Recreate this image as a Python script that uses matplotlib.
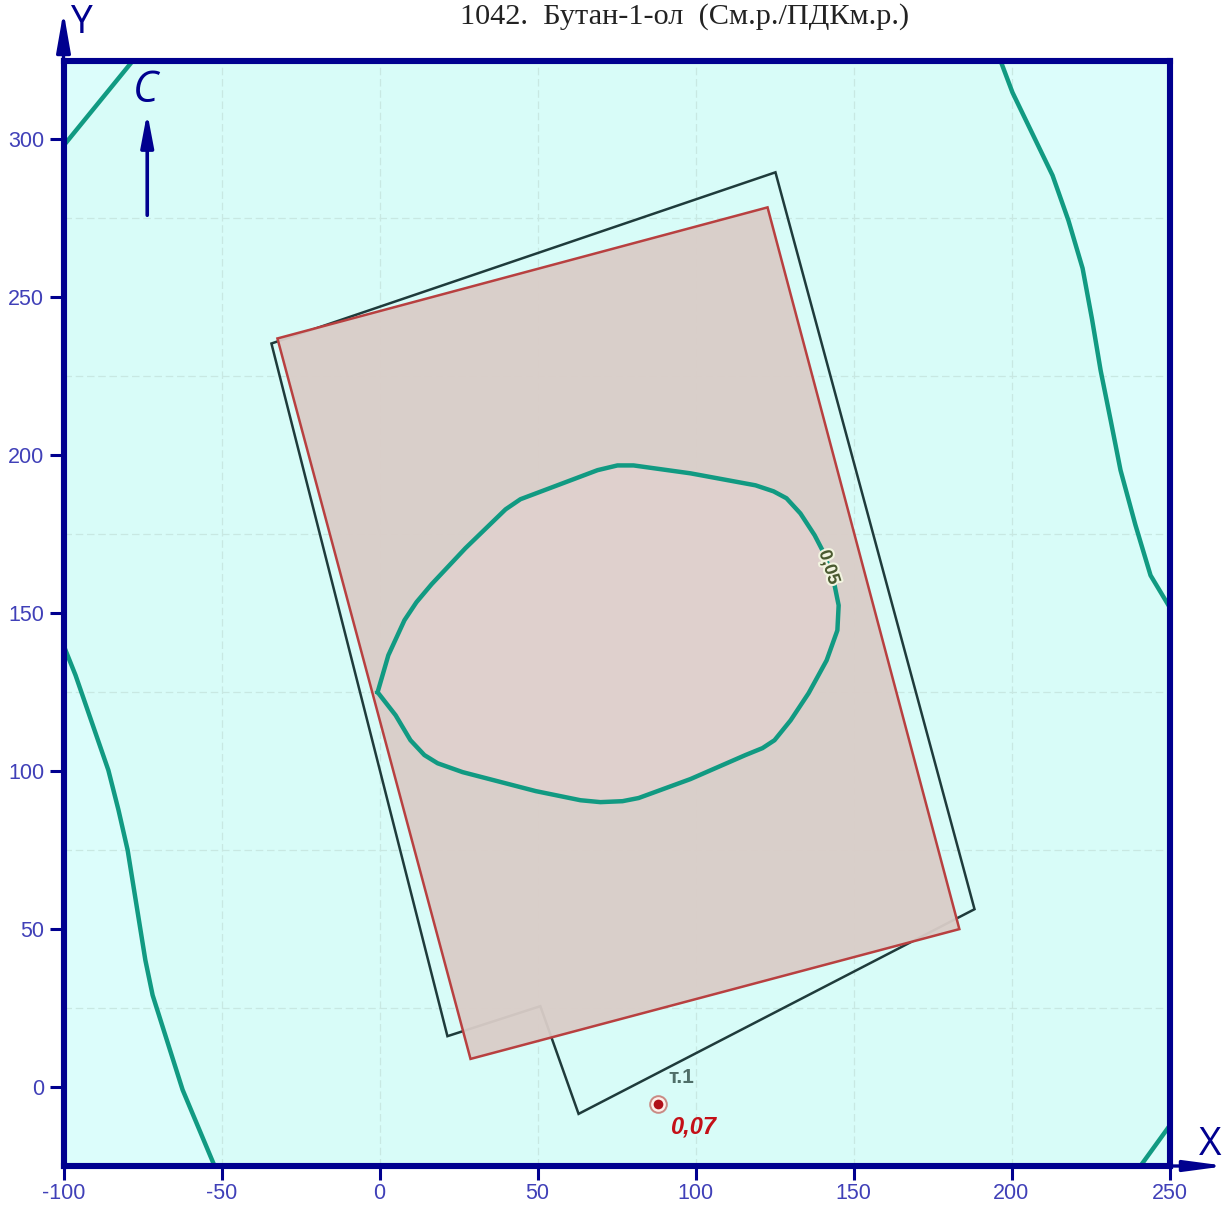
import matplotlib
matplotlib.use("Agg")
import matplotlib.pyplot as plt
import matplotlib.patheffects as pe
from matplotlib.patches import Polygon

title = "1042.  Бутан-1-ол  (См.р./ПДКм.р.)"
x_ticks = [-100, -50, 0, 50, 100, 150, 200, 250]
y_ticks = [0, 50, 100, 150, 200, 250, 300]
grid_x = [-50, 0, 50, 100, 150, 200]
grid_y = [25, 75, 125, 175, 225, 275]

outer_x = [-34.2, 125.3, 188.3, 63.0, 50.9, 21.5]
outer_y = [235.4, 289.6, 56.3, -8.5, 25.6, 16.1]
zone_x = [-32.3, 122.8, 183.5, 28.8]
zone_y = [237.0, 278.5, 50.0, 8.9]

inner_x = [-0.6, 2.8, 7.9, 11.7, 16.5, 27.2, 39.9, 44.6, 69.0, 75.3, 80.4, 98.4, 119.0, 124.7, 128.8,
           133.2, 137.7, 140.5, 143.7, 145.3, 144.9, 141.5, 135.8, 130.1, 125.0, 121.2, 115.8, 98.4,
           82.0, 76.9, 69.9, 63.6, 49.4, 26.3, 18.4, 14.2, 9.8, 5.1, -0.6]
inner_y = [125.0, 136.7, 147.8, 153.5, 159.2, 170.6, 182.9, 186.1, 195.3, 196.8, 196.8, 194.3, 190.5,
           188.6, 186.4, 181.6, 174.7, 169.3, 160.4, 152.5, 144.6, 135.1, 124.7, 116.1, 109.8, 107.3,
           105.1, 97.5, 91.5, 90.5, 90.2, 90.8, 93.7, 99.7, 102.5, 105.1, 109.8, 117.7, 125.0]
left_x = [-100.0, -96.2, -91.5, -85.8, -82.6, -79.7, -76.9, -74.1, -71.8, -69.3, -62.3, -52.2]
left_y = [139.9, 130.4, 116.8, 100.3, 87.7, 75.0, 57.6, 40.2, 29.1, 21.2, -0.9, -25.0]
right_x = [196.5, 200.3, 213.0, 218.0, 222.5, 225.5, 228.2, 231.4, 234.5, 239.2, 244.0, 250.0]
right_y = [325.0, 314.9, 288.6, 274.4, 259.2, 243.0, 226.9, 211.0, 195.3, 178.0, 162.0, 152.0]
tl_x = [-100.0, -78.0]
tl_y = [298.0, 325.0]
br_x = [240.8, 250.0]
br_y = [-25.0, -12.3]
point_x, point_y = 88.0, -5.4
point_value = "0,07"
point_name = "т.1"
contour_label = "0,05"

W, H = 1227, 1207
BLUE = "#00008f"
TEAL = "#119a82"
plt.rcParams["axes.unicode_minus"] = False
fig = plt.figure(figsize=(W / 100, H / 100), dpi=100)
ax = fig.add_axes([63.5 / W, 1 - 1166 / H, 1106 / W, 1105.5 / H])
ax.set_xlim(-100, 250)
ax.set_ylim(-25, 325)
ax.set_facecolor("#d8fcf8")

# slightly lighter regions beyond the outer isolines
light = "#dcfdfb"
ax.fill(left_x + [-100], left_y + [-25], color=light, lw=0, zorder=1)
ax.fill(right_x + [250], right_y + [325], color=light, lw=0, zorder=1)
ax.fill(tl_x + [-100], tl_y + [325], color=light, lw=0, zorder=1)
ax.fill(br_x + [250], br_y + [-25], color=light, lw=0, zorder=1)

for g in grid_x:
    ax.axvline(g, color="#c8e8e2", lw=0.9, ls=(0, (6, 3)), zorder=1.5)
for g in grid_y:
    ax.axhline(g, color="#c8e8e2", lw=0.9, ls=(0, (6, 3)), zorder=1.5)

ax.add_patch(Polygon(list(zip(outer_x, outer_y)), closed=True, fill=False, ec="#1f3b3b", lw=1.8, zorder=2))
zone = Polygon(list(zip(zone_x, zone_y)), closed=True, fc="#dacdc8", ec="none", alpha=0.95, zorder=3)
ax.add_patch(zone)
inner_fill = ax.fill(inner_x, inner_y, color="#dfd0cd", lw=0, zorder=3.2)[0]
inner_fill.set_clip_path(Polygon(list(zip(zone_x, zone_y)), closed=True, transform=ax.transData))
ax.add_patch(Polygon(list(zip(zone_x, zone_y)), closed=True, fill=False, ec="#b84040", lw=1.8, zorder=3.5))

for xs, ys in [(inner_x, inner_y), (left_x, left_y), (right_x, right_y), (tl_x, tl_y), (br_x, br_y)]:
    ax.plot(xs, ys, color=TEAL, lw=3.2, zorder=4, solid_joinstyle="round")

ax.text(142.2, 164.5, contour_label, rotation=-72, rotation_mode="anchor", ha="center", va="center",
        fontsize=13, color="#4a5a30", zorder=5, family="Liberation Sans", fontweight="bold",
        path_effects=[pe.withStroke(linewidth=3, foreground="#f2f4e0")])

ax.plot([point_x], [point_y], "o", ms=12, mfc="#fdf0ea", mec="#c98a84", mew=1.4, zorder=5)
ax.plot([point_x], [point_y], "o", ms=7, mfc="#b01018", mec="none", zorder=6)
ax.text(95.5, 2.9, point_name, ha="center", va="center", fontsize=15, color="#4f6e68",
        family="Liberation Sans", fontweight="bold", zorder=5)
ax.text(99.2, -12.7, point_value, ha="center", va="center", fontsize=17, color="#c41018",
        family="Liberation Sans", fontweight="bold", style="italic", zorder=5)

# wind direction arrow
ax.annotate("", xy=(-73.5, 308.5), xytext=(-73.5, 276), zorder=6,
            arrowprops=dict(arrowstyle="-|>,head_width=0.38,head_length=2.0", color=BLUE, lw=2.6,
                            shrinkA=0, shrinkB=0))
ax.text(-74, 315.5, "C", ha="center", va="center", fontsize=31, color=BLUE, family="Open Sans",
        style="italic", zorder=6)

for s in ax.spines.values():
    s.set_color(BLUE)
    s.set_linewidth(4.4)
    s.set_zorder(8)

ax.set_xticks(x_ticks)
ax.set_yticks(y_ticks)
ax.tick_params(axis="both", length=10, width=2.2, color=BLUE, labelcolor="#4040b8", labelsize=15.5)
ax.tick_params(axis="x", pad=2)
ax.tick_params(axis="y", pad=4)
for lab in ax.get_xticklabels() + ax.get_yticklabels():
    lab.set_family("Liberation Sans")

# axis arrows
ax.annotate("", xy=(-100, 340.5), xytext=(-100, 325), annotation_clip=False,
            arrowprops=dict(arrowstyle="-|>,head_width=0.42,head_length=2.4", color=BLUE, lw=2.4, shrinkA=0, shrinkB=0))
ax.annotate("", xy=(268, -25), xytext=(250, -25), annotation_clip=False,
            arrowprops=dict(arrowstyle="-|>,head_width=0.32,head_length=2.4", color=BLUE, lw=2.4, shrinkA=0, shrinkB=0))
fig.text(81 / W, 1 - 23 / H, "Y", ha="center", va="center", fontsize=28, color=BLUE, family="Open Sans")
fig.text(1210 / W, 1 - 1145 / H, "X", ha="center", va="center", fontsize=28, color=BLUE, family="Open Sans")
fig.text(685 / W, 1 - 17 / H, title, ha="center", va="center", fontsize=21.8, color="#222222", family="Liberation Serif")

fig.savefig("out.png", dpi=100, facecolor="white")
